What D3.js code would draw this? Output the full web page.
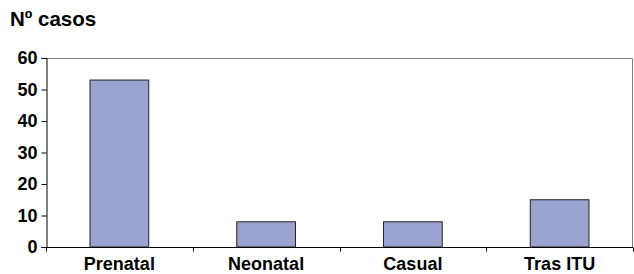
<!DOCTYPE html>
<html>
<head>
<meta charset="utf-8">
<script src="https://cdn.jsdelivr.net/npm/d3@7"></script>
<style>
  body { margin: 0; background: #fff; }
  svg { display: block; font-family: "Liberation Sans", Arial, sans-serif; }
</style>
</head>
<body>
<div id="chart"></div>
<script>
const categories = ["Prenatal", "Neonatal", "Casual", "Tras ITU"]
const casos = [53, 8, 8, 15]
const yTicks = [0, 10, 20, 30, 40, 50, 60]
const yTitle = "Nº casos"

const w = 634
const h = 274
const m = { top: 58, right: 1, bottom: 27, left: 46 }

const svg = d3.select("#chart").append("svg")
    .attr("width", w)
    .attr("height", h)

const x = d3.scaleBand()
    .domain(categories)
    .range([m.left, w - m.right])
    .paddingInner(0)
    .paddingOuter(0)

const y = d3.scaleLinear()
    .domain([0, 60])
    .range([h - m.bottom, m.top])

// plot frame (top + right)
svg.append("path")
    .attr("d", `M${m.left},${m.top + 0.5}H${w - m.right - 0.5}V${h - m.bottom}`)
    .attr("fill", "none")
    .attr("stroke", "#808080")
    .attr("stroke-width", 1)

// bars
svg.selectAll(".bar")
    .data(categories)
    .enter().append("rect")
    .attr("class", "bar")
    .attr("x", d => x(d) + x.bandwidth() * 0.3)
    .attr("width", x.bandwidth() * 0.4)
    .attr("y", (d, i) => y(casos[i]))
    .attr("height", (d, i) => y(0) - y(casos[i]))
    .attr("fill", "#9aa3cf")
    .attr("stroke", "#222")
    .attr("stroke-width", 1)

// y axis
const yAxis = svg.append("g")
    .attr("transform", `translate(${m.left + 0.5},0)`)
    .call(d3.axisLeft(y).tickValues(yTicks).tickSize(5).tickPadding(4))
yAxis.select(".domain").attr("stroke", "#000")
yAxis.selectAll("text")
    .attr("font-size", 18)
    .attr("font-weight", "bold")
    .attr("fill", "#000")
    .attr("font-family", "Liberation Sans, Arial, sans-serif")

// x axis - ticks between categories
const xAxisG = svg.append("g")
    .attr("transform", `translate(0,${y(0) + 0.5})`)
xAxisG.append("line")
    .attr("x1", m.left).attr("x2", w - m.right)
    .attr("stroke", "#000")
const bounds = categories.map(c => x(c)).concat([x.range()[1]])
xAxisG.selectAll(".tk")
    .data(bounds)
    .enter().append("line")
    .attr("class", "tk")
    .attr("x1", d => Math.round(d) + 0.5).attr("x2", d => Math.round(d) + 0.5)
    .attr("y1", 0).attr("y2", 4)
    .attr("stroke", "#000")
xAxisG.selectAll(".lbl")
    .data(categories)
    .enter().append("text")
    .attr("class", "lbl")
    .attr("x", d => x(d) + x.bandwidth() / 2)
    .attr("y", 22)
    .attr("text-anchor", "middle")
    .attr("font-size", 18)
    .attr("font-weight", "bold")
    .text(d => d)

// title
svg.append("text")
    .attr("x", 10)
    .attr("y", 26)
    .attr("font-size", 20.5)
    .attr("font-weight", "bold")
    .text(yTitle)
</script>
</body>
</html>
